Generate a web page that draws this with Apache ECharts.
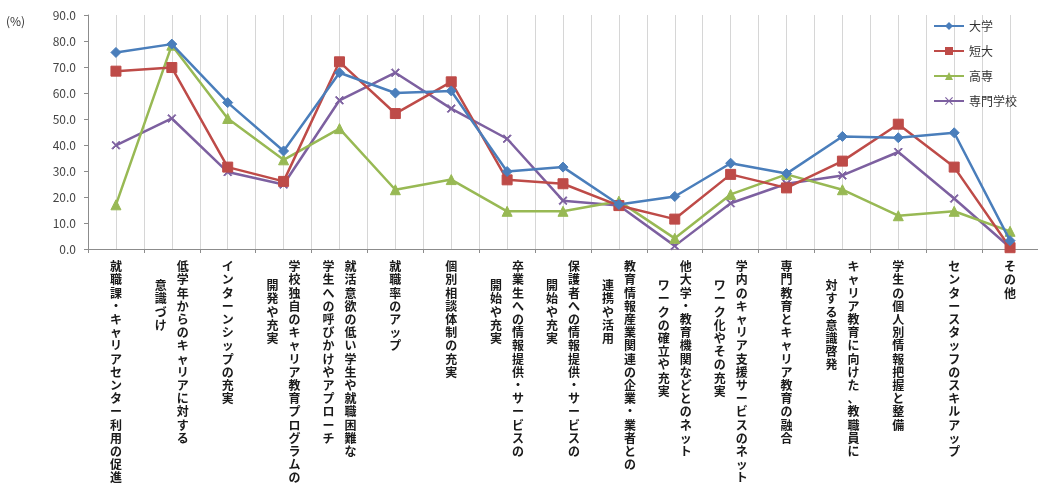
<!DOCTYPE html>
<html><head><meta charset="utf-8">
<script src="https://cdn.jsdelivr.net/npm/echarts@6/dist/echarts.min.js"></script>
<style>html,body{margin:0;padding:0;background:#fff}#c{width:1038px;height:492px}</style>
</head><body><div id="c"></div>
<script>
// first (right-hand) column of each vertical label, and second (left-hand) column
const labelCol1 = [
  '就職課・キャリアセンター利用の促進',
  '低学年からのキャリアに対する',
  'インターンシップの充実',
  '学校独自のキャリア教育プログラムの',
  '就活意欲の低い学生や就職困難な',
  '就職率のアップ',
  '個別相談体制の充実',
  '卒業生への情報提供・サービスの',
  '保護者への情報提供・サービスの',
  '教育情報産業関連の企業・業者との',
  '他大学・教育機関などとのネット',
  '学内のキャリア支援サービスのネット',
  '専門教育とキャリア教育の融合',
  'キャリア教育に向けた、教職員に',
  '学生の個人別情報把握と整備',
  'センタースタッフのスキルアップ',
  'その他'
];
const labelCol2 = [
  '', '意識づけ', '', '開発や充実', '学生への呼びかけやアプローチ', '', '',
  '開始や充実', '開始や充実', '連携や活用', 'ワークの確立や充実', 'ワーク化やその充実',
  '', '対する意識啓発', '', '', ''
];
const categories = labelCol1.map((a, i) => a + labelCol2[i]);

const seriesNames = ['大学', '短大', '高専', '専門学校'];
const valDaigaku = [75.6, 78.8, 56.3, 37.7, 67.8, 60.0, 60.8, 29.8, 31.5, 17.1, 20.2, 33.0, 29.0, 43.3, 42.8, 44.7, 3.2];
const valTandai  = [68.4, 69.8, 31.5, 26.0, 72.0, 52.1, 64.3, 26.6, 25.1, 16.7, 11.5, 28.7, 23.5, 33.8, 48.0, 31.5, 0.5];
const valKosen   = [17.0, 78.4, 50.2, 34.3, 46.3, 22.8, 26.7, 14.5, 14.5, 18.4, 4.1, 21.0, 28.7, 22.8, 12.8, 14.5, 6.8];
const valSenmon  = [39.9, 50.2, 29.6, 24.8, 57.2, 67.8, 54.0, 42.4, 18.6, 16.7, 1.2, 17.6, 25.1, 28.3, 37.3, 19.4, 0.6];

const yMin = 0, yMax = 90, yStep = 10;
const yUnit = '(%)';

const FONT = '"Noto Sans CJK JP", "Noto Sans", sans-serif';
const base = {fontSize: 12, lineHeight: 13.2, color: '#1a1a1a', fontFamily: FONT, fontWeight: 'bold'};
const rich = {
  s: Object.assign({}, base),
  r: Object.assign({}, base, {width: 34, align: 'right'}),
  l: Object.assign({}, base, {width: 34, align: 'left'}),
  sp: {fontSize: 12, lineHeight: 19, fontFamily: FONT}
};

function col1Fmt(v, i) {
  const two = labelCol2[i] !== '';
  const tag = two ? 'r' : 's';
  return Array.from(labelCol1[i]).map(c => '{' + tag + '|' + c + '}').join('\n');
}
function col2Fmt(v, i) {
  const t = labelCol2[i];
  if (!t) return '';
  const lines = Array.from(t).map(c => '{l|' + c + '}');
  if (Array.from(t).length <= Array.from(labelCol1[i]).length - 3) lines.unshift('{sp|　}');
  return lines.join('\n');
}

const colors = ['#4A7EBB', '#BE4B48', '#98B954', '#7D60A0'];
const symbols = ['diamond', 'rect', 'triangle', 'path://M1,0L5,4L9,0L10,1L6,5L10,9L9,10L5,6L1,10L0,9L4,5L0,1Z'];
const sizes = [10, 10, 10, 8];
const dataSets = [valDaigaku, valTandai, valKosen, valSenmon];

const chart = echarts.init(document.getElementById('c'), null, {renderer: 'canvas'});
chart.setOption({
  animation: false,
  backgroundColor: '#fff',
  grid: {left: 88, top: 15, bottom: 243, width: 955, containLabel: false},
  legend: {
    orient: 'vertical', left: 928, top: 15, itemGap: 13, itemWidth: 30, itemHeight: 10,
    textStyle: {fontSize: 12, color: '#333', fontFamily: FONT},
    data: seriesNames
  },
  graphic: [{type: 'text', left: 6, top: 15, style: {text: yUnit, fontSize: 12, fill: '#333', fontFamily: FONT}}],
  xAxis: [
    {
      type: 'category', data: categories, boundaryGap: true, position: 'bottom',
      axisLine: {show: true, lineStyle: {color: '#8c8c8c', width: 1}},
      axisTick: {show: true, length: 4, lineStyle: {color: '#8c8c8c'}},
      splitLine: {show: false},
      axisLabel: {interval: 0, margin: 11, formatter: col1Fmt, rich: rich}
    },
    {
      type: 'category', data: categories, boundaryGap: true, position: 'bottom',
      axisLine: {show: false}, axisTick: {show: false}, splitLine: {show: false},
      axisLabel: {interval: 0, margin: 11, formatter: col2Fmt, rich: rich}
    },
    {
      type: 'category', data: Array(categories.length * 2).fill(''), boundaryGap: true, position: 'bottom',
      axisLine: {show: false}, axisTick: {show: false}, axisLabel: {show: false},
      splitLine: {show: true, interval: 0, lineStyle: {color: '#d6d6d6', width: 1}}
    }
  ],
  yAxis: {
    type: 'value', min: yMin, max: yMax, interval: yStep,
    axisLine: {show: true, lineStyle: {color: '#8c8c8c'}},
    axisTick: {show: true, length: 4, lineStyle: {color: '#8c8c8c'}},
    splitLine: {show: false},
    axisLabel: {margin: 12, fontSize: 12, color: '#444', fontFamily: FONT, formatter: v => v.toFixed(1)}
  },
  series: seriesNames.map((n, k) => ({
    name: n, type: 'line', xAxisIndex: 0, data: dataSets[k],
    symbol: symbols[k], symbolSize: sizes[k], showAllSymbol: true,
    lineStyle: {color: colors[k], width: 2.5},
    itemStyle: {color: colors[k], borderColor: colors[k]},
    z: 10 - k
  }))
});
</script>
</body></html>
